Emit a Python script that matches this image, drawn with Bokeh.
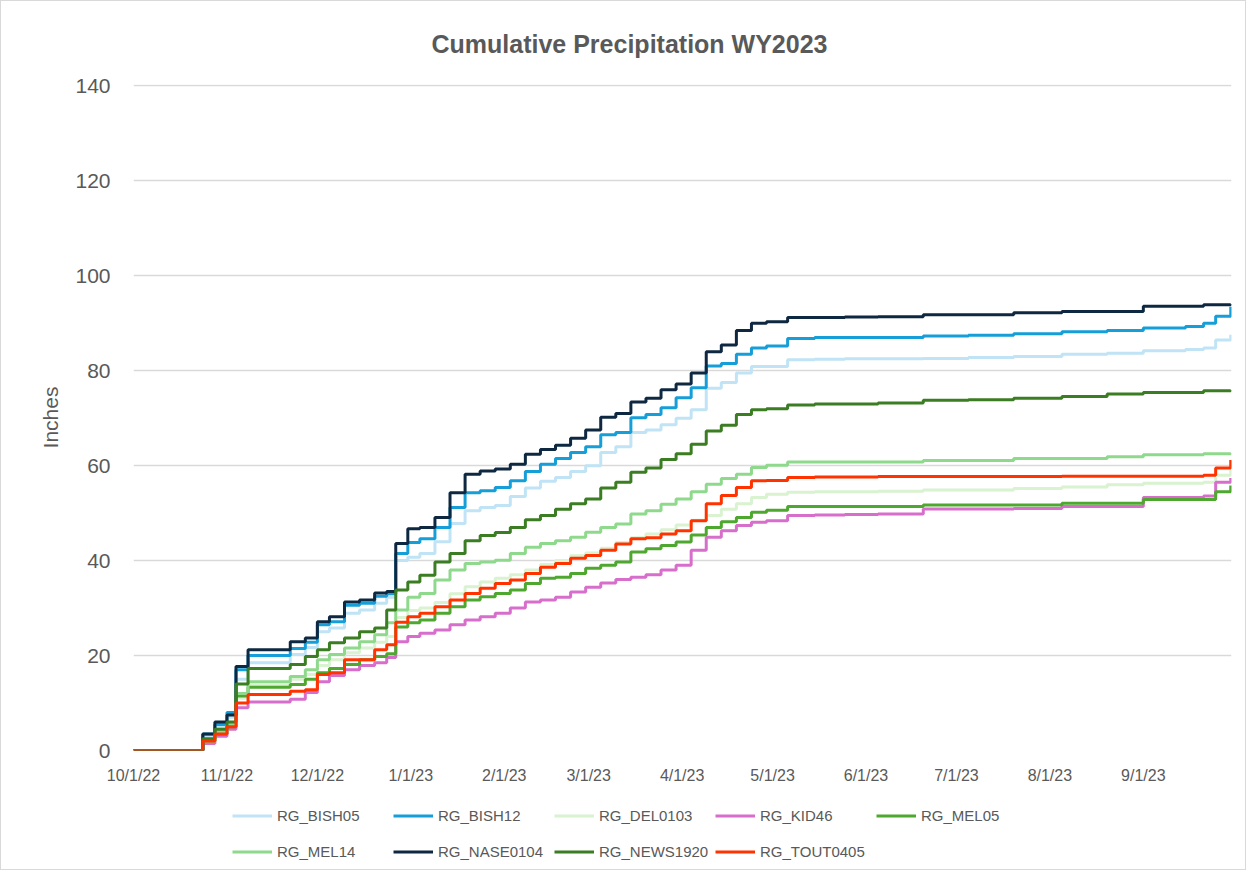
import pandas as pd
from datetime import datetime
from bokeh.plotting import figure
from bokeh.layouts import column
from bokeh.models import Range1d, FixedTicker, Legend, LegendItem
from bokeh.embed import file_html
from bokeh.resources import INLINE

# ---------------- data ----------------
dates = ["2022-10-01", "2022-10-20", "2022-10-24", "2022-10-28", "2022-11-01", "2022-11-04",
         "2022-11-08", "2022-11-15", "2022-11-22", "2022-11-27", "2022-12-01", "2022-12-05",
         "2022-12-10", "2022-12-15", "2022-12-20", "2022-12-24", "2022-12-27", "2022-12-31",
         "2023-01-04", "2023-01-09", "2023-01-14", "2023-01-19", "2023-01-24", "2023-01-29",
         "2023-02-03", "2023-02-08", "2023-02-13", "2023-02-18", "2023-02-23", "2023-02-28",
         "2023-03-05", "2023-03-10", "2023-03-15", "2023-03-20", "2023-03-25", "2023-03-30",
         "2023-04-04", "2023-04-09", "2023-04-14", "2023-04-19", "2023-04-24", "2023-04-29",
         "2023-05-06", "2023-05-15", "2023-05-25", "2023-06-05", "2023-06-20", "2023-07-05",
         "2023-07-20", "2023-08-05", "2023-08-20", "2023-09-01", "2023-09-15", "2023-09-21",
         "2023-09-25", "2023-09-30"]

rg_bish05 = [0, 0, 3.0, 5.0, 7.0, 15.0, 18.5, 18.5, 20.2, 21.7,
             25.0, 25.8, 28.9, 29.6, 31.0, 32.3, 40.0, 40.7, 41.5, 44.0,
             47.8, 50.5, 51.2, 51.6, 53.5, 55.3, 56.7, 57.5, 58.8, 60.0,
             62.8, 64.0, 67.0, 67.5, 68.6, 70.0, 71.8, 76.3, 77.5, 79.5,
             80.9, 80.9, 82.3, 82.4, 82.5, 82.5, 82.6, 82.8, 83.0, 83.5,
             83.7, 84.2, 84.5, 84.8, 86.5, 87.6]
rg_bish12 = [0, 0, 3.5, 5.5, 8.0, 17.0, 20.0, 20.0, 21.5, 22.8,
             26.5, 27.1, 30.6, 31.0, 32.5, 33.0, 41.5, 43.8, 44.6, 47.0,
             51.2, 54.3, 54.7, 55.4, 56.8, 58.8, 60.3, 61.5, 62.8, 64.0,
             66.5, 67.0, 70.1, 70.8, 72.2, 74.3, 76.4, 81.0, 81.5, 83.5,
             84.8, 85.2, 86.8, 87.0, 87.0, 87.0, 87.3, 87.5, 87.8, 88.2,
             88.5, 89.0, 89.3, 90.0, 91.5, 93.5]
rg_del0103 = [0, 0, 2.0, 3.8, 5.2, 11.0, 13.8, 13.8, 15.0, 16.0,
              17.9, 19.1, 20.6, 21.6, 22.8, 24.0, 28.0, 29.5, 30.0, 31.2,
              33.0, 34.5, 35.5, 36.3, 37.0, 38.0, 39.2, 40.0, 41.0, 41.6,
              42.6, 43.8, 44.8, 45.6, 46.5, 47.5, 48.5, 49.5, 50.8, 52.0,
              53.3, 54.0, 54.4, 54.5, 54.5, 54.6, 54.9, 54.9, 55.2, 55.5,
              56.0, 56.3, 56.3, 56.5, 58.0, 59.1]
rg_kid46 = [0, 0, 1.5, 3.0, 4.5, 9.0, 10.2, 10.2, 10.8, 12.2,
            14.5, 15.8, 17.0, 17.9, 18.5, 19.6, 22.9, 24.0, 24.7, 25.4,
            26.5, 27.5, 28.2, 28.9, 30.0, 31.3, 31.7, 32.3, 33.4, 34.4,
            35.3, 36.0, 36.5, 37.0, 38.0, 39.0, 42.2, 44.9, 46.3, 47.4,
            48.1, 48.4, 49.5, 49.6, 49.7, 49.8, 50.9, 50.9, 51.0, 51.4,
            51.4, 53.3, 53.3, 53.6, 56.5, 57.4]
rg_mel05 = [0, 0, 2.0, 3.5, 5.0, 11.5, 13.3, 13.3, 13.9, 15.0,
            16.4, 17.3, 18.1, 19.1, 19.8, 20.4, 26.0, 26.9, 27.5, 28.9,
            30.3, 31.7, 32.4, 33.1, 33.8, 35.2, 36.3, 36.5, 37.3, 38.4,
            39.0, 39.7, 41.8, 42.5, 43.2, 43.9, 45.4, 47.0, 48.2, 49.1,
            50.2, 50.6, 51.4, 51.4, 51.4, 51.4, 51.7, 51.7, 51.7, 52.1,
            52.1, 52.9, 52.9, 52.9, 54.5, 55.8]
rg_mel14 = [0, 0, 2.0, 4.0, 5.5, 12.0, 14.5, 14.5, 15.6, 17.0,
            19.1, 20.2, 21.6, 22.9, 24.4, 26.9, 29.6, 32.3, 33.1, 35.9,
            38.0, 39.4, 39.7, 40.1, 41.5, 42.8, 43.6, 44.2, 44.9, 46.0,
            47.0, 47.7, 49.8, 50.5, 51.9, 53.0, 54.5, 56.1, 57.3, 58.2,
            59.6, 60.1, 60.8, 60.8, 60.8, 60.8, 61.1, 61.1, 61.5, 61.5,
            61.9, 62.3, 62.3, 62.5, 62.5, 62.6]
rg_nase0104 = [0, 0, 3.5, 6.0, 7.5, 17.7, 21.2, 21.2, 22.9, 23.7,
               27.1, 28.2, 31.3, 31.7, 33.2, 33.5, 43.6, 46.7, 47.0, 49.1,
               54.3, 58.2, 58.9, 59.3, 60.3, 62.4, 63.4, 64.3, 65.8, 67.5,
               70.2, 71.0, 73.4, 74.2, 76.0, 77.2, 79.5, 84.0, 85.4, 88.5,
               90.0, 90.3, 91.2, 91.2, 91.3, 91.4, 91.8, 91.8, 92.2, 92.5,
               92.5, 93.6, 93.6, 93.9, 93.9, 94.0]
rg_news1920 = [0, 0, 2.5, 4.5, 6.0, 14.0, 17.3, 17.3, 18.1, 19.8,
               21.2, 22.7, 23.7, 25.0, 25.8, 29.6, 33.8, 35.5, 36.9, 39.7,
               41.5, 44.2, 45.3, 45.9, 47.0, 48.6, 49.5, 50.8, 52.0, 53.0,
               55.3, 56.5, 58.6, 59.5, 61.3, 62.5, 64.5, 67.3, 68.5, 70.8,
               71.8, 72.0, 72.8, 73.0, 73.0, 73.2, 73.8, 73.9, 74.2, 74.6,
               75.1, 75.4, 75.4, 75.8, 75.8, 75.9]
rg_tout0405 = [0, 0, 2.0, 3.5, 5.0, 10.0, 11.8, 11.8, 12.5, 12.8,
               16.0, 16.4, 19.1, 19.1, 21.2, 22.3, 27.0, 28.2, 28.9, 30.3,
               31.7, 33.1, 34.2, 35.2, 35.9, 37.3, 38.6, 39.4, 40.5, 41.1,
               42.2, 43.5, 44.6, 44.8, 45.6, 46.3, 48.4, 52.0, 53.7, 55.4,
               56.8, 56.9, 57.5, 57.6, 57.6, 57.7, 57.7, 57.7, 57.7, 57.8,
               57.8, 57.8, 57.8, 58.0, 59.5, 61.2]

series_names = ["RG_BISH05", "RG_BISH12", "RG_DEL0103", "RG_KID46", "RG_MEL05",
                "RG_MEL14", "RG_NASE0104", "RG_NEWS1920", "RG_TOUT0405"]
series_values = [rg_bish05, rg_bish12, rg_del0103, rg_kid46, rg_mel05,
                 rg_mel14, rg_nase0104, rg_news1920, rg_tout0405]
series_colors = ["#c0e4f5", "#159ed8", "#d9f2d0", "#d86ecc", "#4ea72e",
                 "#8ed98c", "#0e2841", "#3b7d23", "#ff3300"]

tick_dates = ["2022-10-01", "2022-11-01", "2022-12-01", "2023-01-01", "2023-02-01",
              "2023-03-01", "2023-04-01", "2023-05-01", "2023-06-01", "2023-07-01",
              "2023-08-01", "2023-09-01"]
tick_labels = ["10/1/22", "11/1/22", "12/1/22", "1/1/23", "2/1/23", "3/1/23",
               "4/1/23", "5/1/23", "6/1/23", "7/1/23", "8/1/23", "9/1/23"]
y_ticks = [0, 20, 40, 60, 80, 100, 120, 140]

# ---------------- figure ----------------
FONT = "Liberation Sans"
TXT = "#595959"
W = 1244

x = pd.to_datetime(dates)

p = figure(width=W, height=790, x_axis_type="datetime",
           output_backend="svg", toolbar_location=None,
           x_range=Range1d(datetime(2022, 10, 1), datetime(2023, 9, 30, 6)),
           y_range=Range1d(0, 140.3),
           min_border_left=132, min_border_right=14, min_border_top=82, min_border_bottom=41)
p.outline_line_color = None

p.title.text = "Cumulative Precipitation  WY2023"
p.title.align = "left"
p.title.offset = 298
p.title.text_font = FONT
p.title.text_font_size = "25px"
p.title.text_font_style = "bold"
p.title.text_color = TXT
p.title.standoff = 53

tick_ms = [pd.Timestamp(d).value / 1e6 for d in tick_dates]
p.xaxis.ticker = FixedTicker(ticks=tick_ms)
p.xaxis.major_label_overrides = {t: l for t, l in zip(tick_ms, tick_labels)}
p.xaxis.axis_line_color = None
p.xaxis.major_tick_line_color = None
p.xaxis.minor_tick_line_color = None
p.xaxis.major_label_text_font = FONT
p.xaxis.major_label_text_font_size = "16px"
p.xaxis.major_label_text_color = TXT
p.xaxis.major_label_standoff = 10

p.yaxis.ticker = FixedTicker(ticks=y_ticks)
p.yaxis.axis_line_color = None
p.yaxis.major_tick_line_color = None
p.yaxis.minor_tick_line_color = None
p.yaxis.major_label_text_font = FONT
p.yaxis.major_label_text_font_size = "21px"
p.yaxis.major_label_text_color = TXT
p.yaxis.major_label_standoff = 17
p.yaxis.axis_label = "Inches"
p.yaxis.axis_label_text_font = FONT
p.yaxis.axis_label_text_font_size = "21px"
p.yaxis.axis_label_text_font_style = "normal"
p.yaxis.axis_label_text_color = TXT
p.yaxis.axis_label_standoff = 10

p.xgrid.grid_line_color = None
p.ygrid.ticker = FixedTicker(ticks=y_ticks)
p.ygrid.grid_line_color = "#d9d9d9"
p.ygrid.grid_line_width = 1.5

for vals, col in zip(series_values, series_colors):
    p.step(x, vals, mode="after", line_color=col, line_width=3)

# ---------------- legend strip ----------------
q = figure(width=W, height=78, output_backend="svg", toolbar_location=None,
           x_range=Range1d(0, 1), y_range=Range1d(0, 1),
           x_axis_location=None, y_axis_location=None,
           min_border_left=0, min_border_right=0, min_border_top=0, min_border_bottom=0)
q.outline_line_color = None
q.xgrid.grid_line_color = None
q.ygrid.grid_line_color = None

# legend keys only: their points lie outside the visible strip
items = []
for name, col in zip(series_names, series_colors):
    r = q.line(x=[-5, -4], y=[-5, -4], line_color=col, line_width=3)
    items.append(LegendItem(label=name, renderers=[r]))

legend = Legend(items=items, location=(99, 2), orientation="horizontal", ncols=5,
                glyph_width=40, glyph_height=31, label_height=31, label_width=111,
                label_standoff=5, spacing=5, padding=0, margin=0,
                border_line_color=None, background_fill_alpha=0,
                label_text_font=FONT, label_text_font_size="15px", label_text_color=TXT)
q.add_layout(legend, "center")

layout = column(p, q, spacing=0)
layout.styles = {"border": "1px solid #d9d9d9"}

open("out.html", "w").write(file_html(layout, INLINE))
